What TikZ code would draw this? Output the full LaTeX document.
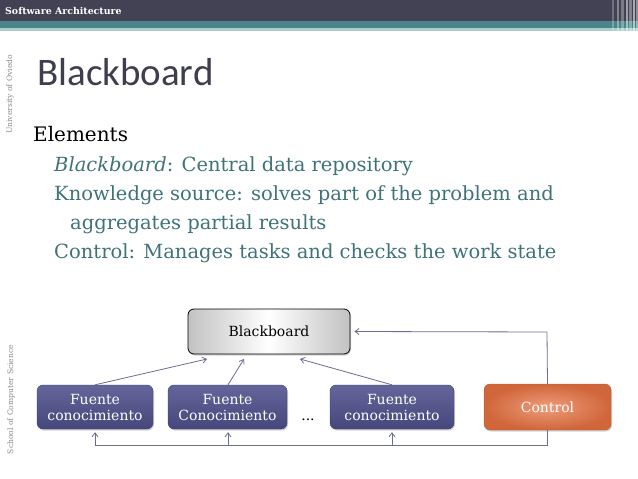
\documentclass[tikz,border=0pt]{standalone}
\usepackage{fontspec}
\setmainfont{DejaVu Serif}
\newfontfamily\titlefont{Carlito}
\usetikzlibrary{arrows.meta,shadows}
\definecolor{barDark}{HTML}{424254}
\definecolor{barTeal}{HTML}{4A8589}
\definecolor{barLight}{HTML}{A9CCCC}
\definecolor{textTeal}{HTML}{3F7378}
\definecolor{titleCol}{HTML}{3E3E4E}
\definecolor{boxBlue}{HTML}{4F508C}
\definecolor{ctrlOrange}{HTML}{D0663A}
\definecolor{ctrlLight}{HTML}{EE9C7A}
\definecolor{arrowCol}{HTML}{6C6C94}
\definecolor{sideGray}{HTML}{8A8A8A}
\tikzset{
  x=1pt,y=-1pt,
  boxbase/.style={rounded corners=6pt, align=center, inner sep=2pt,
    drop shadow={opacity=0.35, shadow xshift=1pt, shadow yshift=-1.5pt}},
  bbbox/.style={boxbase, draw=black, line width=0.8pt,
    left color=black!24, right color=black!24, middle color=white,
    font=\fontsize{14}{16}\selectfont},
  srcbox/.style={boxbase, draw=boxBlue!80!black, line width=0.4pt,
    top color=boxBlue!88!white, bottom color=boxBlue!88!black,
    text=white, font=\fontsize{14}{16}\selectfont,
    minimum height=44pt},
  ctrlbox/.style={boxbase, draw=ctrlOrange!90!black, line width=0.4pt,
    inner color=ctrlLight, outer color=ctrlOrange,
    text=white, font=\fontsize{14}{16}\selectfont,
    minimum width=127pt, minimum height=46pt},
  conn/.style={draw=arrowCol, line width=0.8pt},
  arr/.style={conn, -{Straight Barb[length=4pt,width=6pt]}},
  sidetxt/.style={text=sideGray, font=\fontsize{7.6}{8}\selectfont, rotate=90},
  subitem/.style={anchor=base west, text=textTeal, font=\fontsize{19.5}{22}\selectfont, inner sep=0pt}
}
\begin{document}
\begin{tikzpicture}
\useasboundingbox (0,0) rectangle (638,479);
\fill[white] (0,0) rectangle (638,479);
% top bar
\fill[barDark] (0,0) rectangle (638,21);
\fill[barTeal] (0,21) rectangle (638,27.5);
\fill[barLight] (0,27.5) rectangle (638,31);
\foreach \xx/\ww/\oo in {612/2/0.25, 617/1.5/0.35, 621/3/0.3, 626/1.5/0.5, 629/2.5/0.35, 633/1.5/0.55, 636/2/0.4}
  \fill[white, opacity=\oo] (\xx,0) rectangle (\xx+\ww,31);
\node[anchor=west, text=white, font=\bfseries\fontsize{9.4}{11}\selectfont, inner sep=0pt] (hdr) at (5,11) {Software Architecture};
% side texts
\node[sidetxt] (uni) at (10,94.5) {University of Oviedo};
\node[sidetxt] (school) at (11,399.5) {School of Computer Science};
% title
\node[anchor=base west, text=titleCol, font=\titlefont\fontsize{39}{42}\selectfont, inner sep=0pt] (title) at (37,85) {Blackboard};
% bullets
\node[anchor=base west, text=black, font=\fontsize{20}{23}\selectfont, inner sep=0pt] (elem) at (33,141) {Elements};
\node[subitem] (l1) at (54,171) {\textit{Blackboard}: Central data repository};
\node[subitem] (l2) at (54,200) {Knowledge source: solves part of the problem and};
\node[subitem] (l3) at (70,229) {aggregates partial results};
\node[subitem] (l4) at (54,258) {Control: Manages tasks and checks the work state};
% diagram nodes
\node[bbbox, minimum width=162pt, minimum height=45pt] (bb) at (269,331.5) {Blackboard};
\node[srcbox, minimum width=116pt] (f1) at (95,407) {Fuente\\conocimiento};
\node[srcbox, minimum width=119pt] (f2) at (227.5,407) {Fuente\\Conocimiento};
\node[srcbox, minimum width=124pt] (f3) at (392,407) {Fuente\\conocimiento};
\node[ctrlbox] (ctrl) at (547.5,407) {Control};
\node[font=\fontsize{14}{16}\selectfont, inner sep=0pt] (dots) at (308,420) {...};
% coordinates
\coordinate (t1) at (207,359);
\coordinate (t2) at (244,359);
\coordinate (t3) at (300,359);
\coordinate (tc) at (547,332);
\coordinate (b1) at (95,445);
\coordinate (b2) at (228,445);
\coordinate (b3) at (392,445);
% connectors
\draw[arr] (f1.north) -- (t1);
\draw[arr] (f2.north -| b2) -- (t2);
\draw[arr] (f3.north) -- (t3);
\draw[conn] (ctrl.north) -- (tc);
\draw[arr] (tc) -- ([xshift=4pt]bb.east);
\draw[conn] (ctrl.south) |- (b1);
\draw[arr, shorten >=3pt] (b1) -- (f1.south);
\draw[arr, shorten >=3pt] (b2) -- (f2.south -| b2);
\draw[arr, shorten >=3pt] (b3) -- (f3.south);
\end{tikzpicture}
\end{document}
